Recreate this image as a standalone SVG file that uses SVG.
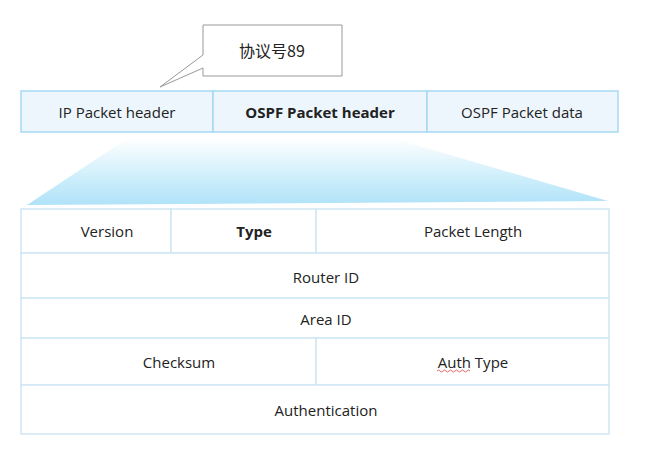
<svg xmlns="http://www.w3.org/2000/svg" width="668" height="453" viewBox="0 0 668 453">
<defs>
<linearGradient id="fan" x1="0" y1="0" x2="0" y2="1">
<stop offset="0" stop-color="#ffffff"/>
<stop offset="0.6" stop-color="#cdeefb"/>
<stop offset="1" stop-color="#b0e2f8"/>
</linearGradient>
<style>
.t{font-family:"Open Sans","Noto Sans","Liberation Sans",sans-serif;font-size:15px;fill:#222;text-anchor:middle;dominant-baseline:central}
.b{font-weight:bold}
.top{fill:#eef6fd;stroke:#a6d9f3;stroke-width:1.5}
.cell{fill:#ffffff;stroke:#cfe6f3;stroke-width:1.5}
</style>
</defs>
<rect width="668" height="453" fill="#ffffff"/>
<g id="fan-shape">
<polygon points="128,138 392,138 608,201 27,205" fill="url(#fan)"/>
</g>
<g id="callout">
<polygon points="203,25 342,25 342,76 203,76 203,68 160,87 203,55" fill="#ffffff" stroke="#999999" stroke-width="1"/>
<text class="t" x="272" y="50" style="font-family:'Noto Sans CJK SC','Open Sans',sans-serif;font-size:16px">协议号89</text>
</g>
<g id="top-ip">
<rect class="top" x="21" y="91" width="192" height="41"/>
<text class="t" x="117" y="112">IP Packet header</text>
</g>
<g id="top-ospf-header">
<rect class="top" x="213" y="91" width="214" height="41"/>
<text class="t b" x="320" y="112">OSPF Packet header</text>
</g>
<g id="top-ospf-data">
<rect class="top" x="427" y="91" width="191" height="41"/>
<text class="t" x="522" y="112">OSPF Packet data</text>
</g>
<g id="version">
<rect class="cell" x="21" y="209" width="150" height="44"/>
<text class="t" x="107" y="231">Version</text>
</g>
<g id="type">
<rect class="cell" x="171" y="209" width="145" height="44"/>
<text class="t b" x="254" y="231">Type</text>
</g>
<g id="packet-length">
<rect class="cell" x="316" y="209" width="293" height="44"/>
<text class="t" x="473" y="231">Packet Length</text>
</g>
<g id="router-id">
<rect class="cell" x="21" y="253" width="588" height="45"/>
<text class="t" x="326" y="277">Router ID</text>
</g>
<g id="area-id">
<rect class="cell" x="21" y="298" width="588" height="40"/>
<text class="t" x="326" y="319">Area ID</text>
</g>
<g id="checksum">
<rect class="cell" x="21" y="338" width="295" height="47"/>
<text class="t" x="179" y="362">Checksum</text>
</g>
<g id="auth-type">
<rect class="cell" x="316" y="338" width="293" height="47"/>
<text class="t" x="473" y="362">Auth Type</text>
<path d="M437,371 q1.5,-2 3,0 t3,0 t3,0 t3,0 t3,0 t3,0 t3,0 t3,0 t3,0 t3,0 t3,0" fill="none" stroke="#e04040" stroke-width="0.8"/>
</g>
<g id="authentication">
<rect class="cell" x="21" y="385" width="588" height="49"/>
<text class="t" x="326" y="410">Authentication</text>
</g>
<g id="connectors"></g>
</svg>
